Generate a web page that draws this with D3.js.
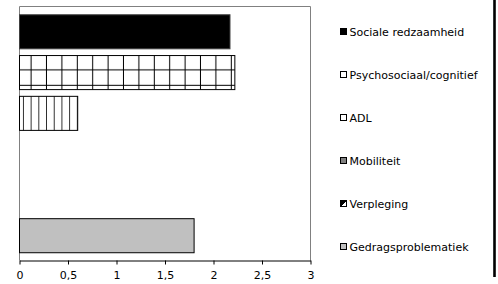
<!DOCTYPE html>
<html>
<head>
<meta charset="utf-8">
<script src="https://cdn.jsdelivr.net/npm/d3@7"></script>
<style>
    body { margin: 0; background: #ffffff; }
    svg { display: block; }
</style>
</head>
<body>
<div id="chart"></div>
<script>
var categories = ['Sociale redzaamheid', 'Psychosociaal/cognitief', 'ADL',
    'Mobiliteit', 'Verpleging', 'Gedragsproblematiek'];
var values = [2.17, 2.22, 0.6, 0, 0, 1.8];
var tick_values = [0, 0.5, 1, 1.5, 2, 2.5, 3];
var tick_labels = ['0', '0,5', '1', '1,5', '2', '2,5', '3'];

var width = 498,
    height = 284,
    plot_left = 19.5,
    plot_right = 310.5,
    plot_top = 6.5,
    plot_bottom = 260.5,
    font = 'Verdana, "DejaVu Sans", sans-serif';

var svg = d3.select('#chart').append('svg')
    .attr('width', width)
    .attr('height', height);

// Fill patterns for the hatched bars.
var defs = svg.append('defs');

var grid = defs.append('pattern')
    .attr('id', 'grid')
    .attr('patternUnits', 'userSpaceOnUse')
    .attr('x', 16.2)
    .attr('y', 55)
    .attr('width', 15.4)
    .attr('height', 15.4);
grid.append('rect').attr('width', 15.4).attr('height', 15.4).attr('fill', '#fff');
grid.append('rect').attr('x', 14.4).attr('width', 2).attr('height', 15.4).attr('fill', '#000');
grid.append('rect').attr('y', 14.4).attr('width', 15.4).attr('height', 2).attr('fill', '#000');

var stripes = defs.append('pattern')
    .attr('id', 'stripes')
    .attr('patternUnits', 'userSpaceOnUse')
    .attr('x', 23.9)
    .attr('y', 0)
    .attr('width', 7.7)
    .attr('height', 10);
stripes.append('rect').attr('width', 7.7).attr('height', 10).attr('fill', '#fff');
stripes.append('rect').attr('x', 6.9).attr('width', 1.8).attr('height', 10).attr('fill', '#000');

var half = defs.append('linearGradient')
    .attr('id', 'half')
    .attr('x1', 0).attr('y1', 0).attr('x2', 1).attr('y2', 1);
half.append('stop').attr('offset', '50%').attr('stop-color', '#000');
half.append('stop').attr('offset', '50%').attr('stop-color', '#fff');

var fills = ['#000000', 'url(#grid)', 'url(#stripes)', '#808080', 'url(#half)', '#c0c0c0'];
var legend_fills = ['#000000', '#ffffff', '#ffffff', '#808080', 'url(#half)', '#c0c0c0'];

var x = d3.scaleLinear()
    .domain([0, 3])
    .range([plot_left, plot_right]);

var y = d3.scaleBand()
    .domain(categories)
    .range([11.5, 256])
    .paddingInner(0.165)
    .paddingOuter(0.08);

// Plot frame.
svg.append('path')
    .attr('d', 'M' + plot_left + ',' + plot_bottom + 'V' + plot_top +
        'H' + plot_right + 'V' + plot_bottom)
    .attr('fill', 'none')
    .attr('stroke', '#808080')
    .attr('stroke-width', 1);

// Bars.
svg.append('g').selectAll('rect')
    .data(values)
    .enter().append('rect')
    .attr('x', x(0))
    .attr('y', function (d, i) { return y(categories[i]); })
    .attr('width', function (d) { return x(d) - x(0); })
    .attr('height', y.bandwidth())
    .attr('fill', function (d, i) { return fills[i]; })
    .attr('stroke', function (d, i) { return i === 0 ? '#404040' : '#000'; })
    .attr('stroke-width', 1)
    .style('display', function (d) { return d > 0 ? null : 'none'; });

// X axis.
var axis = d3.axisBottom(x)
    .tickValues(tick_values)
    .tickFormat(function (d, i) { return tick_labels[i]; })
    .tickSizeInner(4)
    .tickSizeOuter(0)
    .tickPadding(7);

var ax = svg.append('g')
    .attr('transform', 'translate(0,' + plot_bottom + ')')
    .call(axis);
ax.select('.domain').attr('stroke', '#000');
ax.selectAll('.tick line').attr('stroke', '#000');
ax.selectAll('.tick text')
    .attr('font-family', font)
    .attr('font-size', '11px')
    .attr('fill', '#000');

// Legend.
var legend = svg.append('g').selectAll('g')
    .data(categories)
    .enter().append('g')
    .attr('transform', function (d, i) {
        return 'translate(340.5,' + (28.5 + i * 43) + ')';
    });

legend.append('rect')
    .attr('width', 6)
    .attr('height', 6)
    .attr('fill', function (d, i) { return legend_fills[i]; })
    .attr('stroke', '#000')
    .attr('stroke-width', 1);

legend.append('text')
    .attr('x', 9)
    .attr('y', 7.5)
    .attr('font-family', font)
    .attr('font-size', '11px')
    .attr('fill', '#000')
    .text(function (d) { return d; });

// Thick border on the right edge.
svg.append('rect')
    .attr('x', 493.2)
    .attr('y', 0)
    .attr('width', 2.6)
    .attr('height', 277)
    .attr('fill', '#000');
</script>
</body>
</html>
